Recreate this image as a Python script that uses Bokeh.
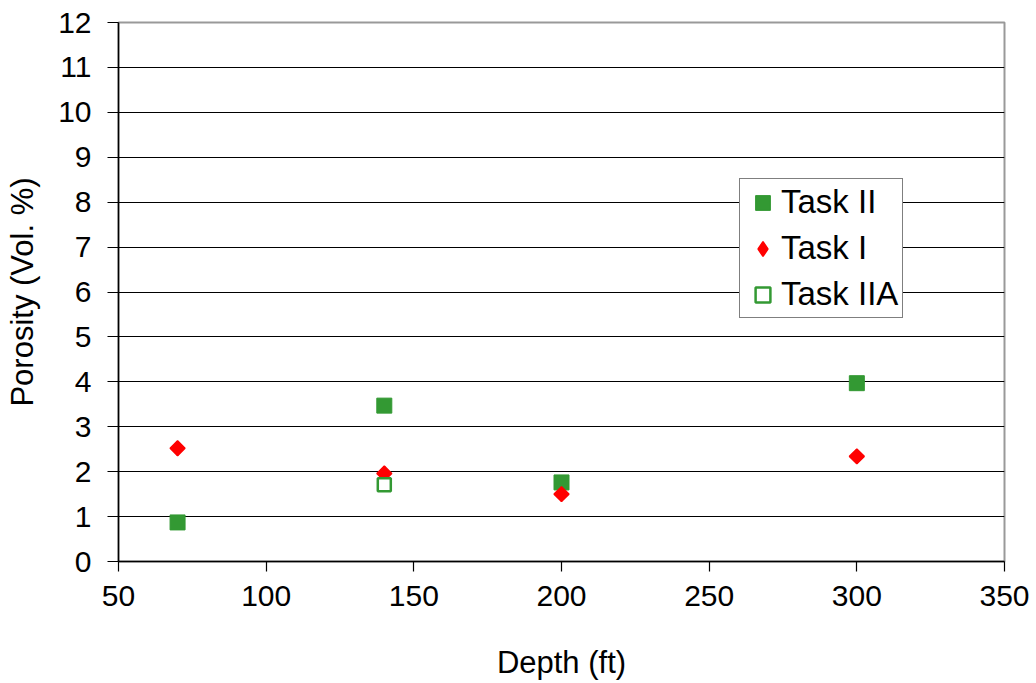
import math
from bokeh.plotting import figure
from bokeh.models import Legend, LegendItem, FixedTicker, Range1d
from bokeh.embed import file_html
from bokeh.resources import INLINE

task2_depth = [70, 140, 200, 300]
task2_poro = [0.87, 3.47, 1.76, 3.97]
task1_depth = [70, 140, 200, 300]
task1_poro = [2.52, 1.96, 1.50, 2.34]
task2a_depth = [140]
task2a_poro = [1.71]
x_ticks = [50, 100, 150, 200, 250, 300, 350]
y_ticks = list(range(0, 13))

FONT = "Liberation Sans"

p = figure(width=1036, height=683, output_backend="svg", toolbar_location=None,
           x_range=Range1d(50, 350), y_range=Range1d(0, 12),
           min_border_left=118, min_border_right=32, min_border_top=22, min_border_bottom=122)
p.outline_line_color = "#999999"
p.outline_line_width = 2
p.background_fill_color = "white"
p.border_fill_color = "white"

p.xgrid.visible = False
p.ygrid.grid_line_color = "black"
p.ygrid.grid_line_width = 1.2
p.ygrid.ticker = FixedTicker(ticks=y_ticks)

for ax in (p.xaxis[0], p.yaxis[0]):
    ax.axis_line_color = "black"
    ax.axis_line_width = 1.5
    ax.major_tick_line_color = "black"
    ax.major_tick_line_width = 1.2
    ax.major_tick_out = 10
    ax.major_tick_in = 0
    ax.minor_tick_line_color = None
    ax.major_label_text_font = FONT
    ax.major_label_text_font_size = "30px"
    ax.major_label_text_color = "black"
    ax.axis_label_text_font = FONT
    ax.axis_label_text_font_size = "31px"
    ax.axis_label_text_font_style = "normal"
    ax.axis_label_text_color = "black"

p.yaxis.major_tick_out = 11
p.xaxis.ticker = FixedTicker(ticks=x_ticks)
p.yaxis.ticker = FixedTicker(ticks=y_ticks)
p.xaxis.axis_label = "Depth (ft)"
p.yaxis.axis_label = "Porosity (Vol. %)"
p.xaxis.major_label_standoff = 14
p.yaxis.major_label_standoff = 16
p.xaxis.axis_label_standoff = 36
p.yaxis.axis_label_standoff = 15

r2 = p.scatter(task2_depth, task2_poro, marker="square", size=15,
               fill_color="#339933", line_color="#339933")
# diamond used for the legend entry; covered on the chart by the rotated squares below
r1_leg = p.scatter(task1_depth, task1_poro, marker="diamond", size=14,
                   fill_color="#ff0000", line_color="#ff0000", line_width=1.5)
r1 = p.scatter(task1_depth, task1_poro, marker="square", size=10.5, angle=math.pi / 4,
               fill_color="#ff0000", line_color="#ff0000", line_width=1.5)
r2a = p.scatter(task2a_depth, task2a_poro, marker="square", size=13,
                fill_color="white", line_color="#339933", line_width=2.5)

legend = Legend(items=[LegendItem(label="Task II", renderers=[r2]),
                       LegendItem(label="Task I", renderers=[r1_leg]),
                       LegendItem(label="Task IIA", renderers=[r2a])],
                location=(621, 243))
legend.label_text_font = FONT
legend.label_text_font_size = "33px"
legend.label_text_color = "black"
legend.border_line_color = "black"
legend.border_line_width = 1.5
legend.glyph_width = 37
legend.glyph_height = 37
legend.spacing = 8
legend.padding = 4
legend.margin = 0
legend.label_standoff = 0
legend.background_fill_alpha = 1
p.add_layout(legend, "center")

open("out.html", "w").write(file_html(p, INLINE))
